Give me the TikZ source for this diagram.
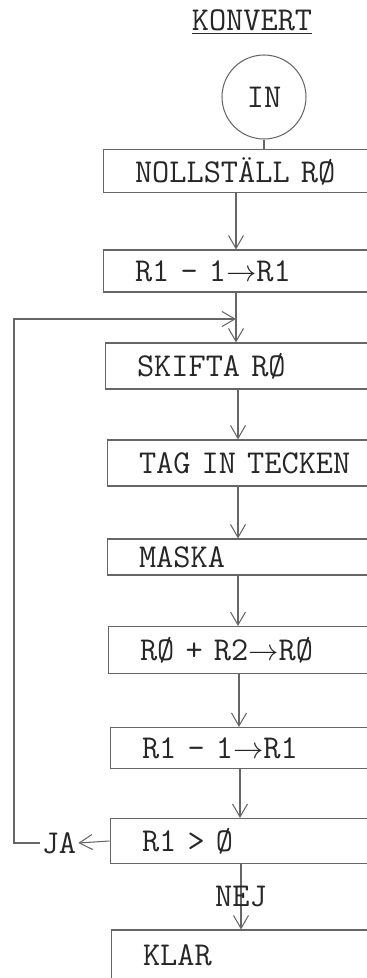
\documentclass[tikz,border=0pt]{standalone}
\usepackage{fontspec}
\usetikzlibrary{arrows.meta}

\tikzset{
  proc/.style={draw=black!60, line width=0.6pt, rectangle, text width=4.32cm,
    inner xsep=0.64cm, inner ysep=0pt, align=left, text=black!85},
  flow/.style={draw=black!60, line width=0.6pt,
    -{Straight Barb[length=2.6mm, width=3mm]}},
  plain/.style={draw=black!60, line width=0.6pt},
}

\begin{document}
\begin{tikzpicture}[x=0.02cm, y=-0.02cm, font=\fontsize{19}{22}\selectfont\ttfamily]
    \useasboundingbox (0,0) rectangle (366,978);

    % rubrik och start
    \node[text=black!85] (konvert) at (252,22) {\underline{KONVERT}};
    \node[draw=black!60, line width=0.6pt, circle, minimum size=1.68cm, inner sep=0pt,
      text=black!85] (in) at (264,97) {IN};

    % programstegen (lådorna fortsätter utanför högerkanten)
    \node[proc, minimum height=0.86cm] (nollst) at (243,171) {NOLLSTÄLL RØ};
    \node[proc, minimum height=0.84cm] (minska) at (243,271) {R1 - 1{$\rightarrow$}R1};
    \node[proc, minimum height=0.92cm] (skifta) at (245,366) {SKIFTA RØ};
    \node[proc, minimum height=0.92cm] (tecken) at (247,463) {TAG IN TECKEN};
    \node[proc, minimum height=0.72cm] (maska) at (247,557) {MASKA};
    \node[proc, minimum height=0.94cm] (addera) at (248,650) {RØ + R2{$\rightarrow$}RØ};
    \node[proc, minimum height=0.82cm] (minskb) at (250,748) {R1 - 1{$\rightarrow$}R1};
    \node[proc, minimum height=0.90cm] (test) at (250,841) {R1 > Ø};
    \node[proc, minimum height=1.00cm] (klar) at (251,955) {KLAR};

    % förbindelser
    \coordinate (kol) at (236,0);
    \draw[plain] (in.south) -- (in.south |- nollst.north);
    \draw[flow] (kol |- nollst.south) -- (kol |- minska.north);
    \draw[flow] (kol |- minska.south) -- (kol |- skifta.north);
    \draw[flow] ([xshift=0.04cm]kol |- skifta.south) -- ([xshift=0.04cm]kol |- tecken.north);
    \draw[flow] ([xshift=0.04cm]kol |- tecken.south) -- ([xshift=0.04cm]kol |- maska.north);
    \draw[flow] ([xshift=0.04cm]kol |- maska.south) -- ([xshift=0.04cm]kol |- addera.north);
    \draw[flow] ([xshift=0.06cm]kol |- addera.south) -- ([xshift=0.06cm]kol |- minskb.north);
    \draw[flow] ([xshift=0.08cm]kol |- minskb.south) -- ([xshift=0.08cm]kol |- test.north);
    \draw[flow] ([xshift=0.1cm]kol |- test.south) -- node[text=black!85] (nej) {NEJ}
      ([xshift=0.1cm]kol |- klar.north);

    % slinga tillbaka
    \node[text=black!85, inner sep=1pt] (ja) at (59,843) {JA};
    \coordinate (hörn) at (14,319);
    \draw[flow] (test.west) -- (ja.east);
    \draw[flow] (ja.west) -- (ja.west -| hörn) -- (hörn) -- (kol |- hörn);
\end{tikzpicture}
\end{document}
